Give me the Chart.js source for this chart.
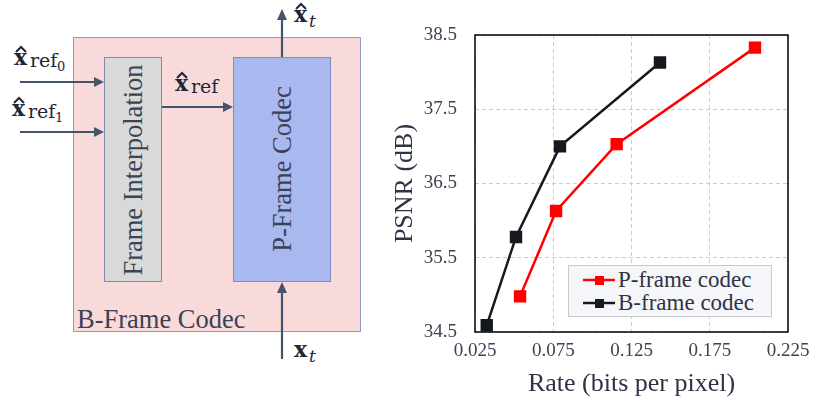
<!DOCTYPE html>
<html>
<head>
<meta charset="utf-8">
<script src="https://cdn.jsdelivr.net/npm/chart.js@4/dist/chart.umd.min.js"></script>
<style>
  html,body{margin:0;padding:0;background:#fff;}
  body{width:830px;height:397px;position:relative;overflow:hidden;font-family:"Liberation Serif",serif;}
  #diagram{position:absolute;left:0;top:0;width:380px;height:397px;}
  #chartBox{position:absolute;left:385px;top:0;width:445px;height:397px;}
  #legend{position:absolute;left:568px;top:265px;width:202px;height:50px;background:#f5f6f9;border:1px solid #c9cacc;
    font-family:"Liberation Serif",serif;font-size:23px;color:#2e3446;}
  #legend .row{position:absolute;left:14px;height:24px;line-height:24px;white-space:nowrap;}
  #legend svg{vertical-align:middle;margin-right:3px;position:relative;top:-2px;}
</style>
</head>
<body>
<svg id="diagram" width="380" height="397" viewBox="0 0 380 397" xmlns="http://www.w3.org/2000/svg">
  <rect x="73.5" y="37.5" width="287" height="294" fill="#f9dada" stroke="#8e9cc0" stroke-width="1"/>
  <rect x="104.5" y="57.5" width="57" height="224" fill="#d9d9d9" stroke="#7d8cae" stroke-width="1"/>
  <rect x="233.5" y="57.5" width="97" height="224" fill="#a9b9ef" stroke="#7d8cc4" stroke-width="1"/>
  <g stroke="#44546a" stroke-width="2.2" fill="#44546a">
    <line x1="20" y1="82" x2="96" y2="82"/>
    <polygon points="104,82 94,77 94,87" stroke="none"/>
    <line x1="20" y1="132" x2="96" y2="132"/>
    <polygon points="104,132 94,127 94,137" stroke="none"/>
    <line x1="162" y1="107" x2="225" y2="107"/>
    <polygon points="233,107 223,102 223,112" stroke="none"/>
    <line x1="282" y1="57" x2="282" y2="19"/>
    <polygon points="282,9 277,20 287,20" stroke="none"/>
    <line x1="282" y1="359" x2="282" y2="291"/>
    <polygon points="282,282 277,293 287,293" stroke="none"/>
  </g>
  <g font-family="Liberation Serif, serif" fill="#3a4256" font-size="26.5">
    <text x="77" y="328">B-Frame Codec</text>
    <text transform="translate(142,170) rotate(-90)" text-anchor="middle">Frame Interpolation</text>
    <text transform="translate(291,169) rotate(-90)" text-anchor="middle">P-Frame Codec</text>
  </g>
  <g fill="#1f2638" font-family="DejaVu Serif, serif">
    <text x="14" y="65" font-size="22" font-weight="bold">x</text>
    <text x="30" y="67" font-size="19">ref</text>
    <text x="57" y="71" font-size="13">0</text>
    <text x="12" y="116" font-size="22" font-weight="bold">x</text>
    <text x="28" y="118" font-size="19">ref</text>
    <text x="55" y="122" font-size="13">1</text>
    <text x="175" y="91" font-size="22" font-weight="bold">x</text>
    <text x="191" y="93" font-size="19">ref</text>
    <text x="294" y="22" font-size="22" font-weight="bold">x</text>
    <text x="309" y="27" font-size="17" font-style="italic">t</text>
    <text x="294" y="357" font-size="22" font-weight="bold">x</text>
    <text x="309" y="362" font-size="17" font-style="italic">t</text>
  </g>
  <g fill="none" stroke="#1f2638" stroke-width="2">
    <polyline points="16,52 21,47 26,52"/>
    <polyline points="14,103 19,98 24,103"/>
    <polyline points="177,78 182,73 187,78"/>
    <polyline points="296,9 301,4 306,9"/>
  </g>
</svg>

<div id="chartBox"><canvas id="c"></canvas></div>

<div id="legend">
  <div class="row" style="top:2px;"><svg width="32" height="12"><line x1="0" y1="6" x2="32" y2="6" stroke="#ff0000" stroke-width="2.5"/><rect x="12" y="2" width="9" height="9" fill="#ff0000"/></svg>P-frame codec</div>
  <div class="row" style="top:25px;"><svg width="32" height="12"><line x1="0" y1="6" x2="32" y2="6" stroke="#15181f" stroke-width="2.5"/><rect x="12" y="2" width="9" height="9" fill="#15181f"/></svg>B-frame codec</div>
</div>

<script>
const seriesNames = ["P-frame codec", "B-frame codec"];
const pRate = [0.0538, 0.0768, 0.1155, 0.2039];
const pPsnr = [34.98, 36.13, 37.03, 38.33];
const bRate = [0.0325, 0.0512, 0.0793, 0.1432];
const bPsnr = [34.59, 35.78, 37.00, 38.13];
const xTicks = [0.025, 0.075, 0.125, 0.175, 0.225];
const yTicks = [34.5, 35.5, 36.5, 37.5, 38.5];
const xTitle = "Rate (bits per pixel)";
const yTitle = "PSNR (dB)";

const toPts = (xs, ys) => xs.map((x, i) => ({x: x, y: ys[i]}));

const frame = {
  id: 'frame',
  afterDatasetsDraw(chart) {
    const a = chart.chartArea, ctx = chart.ctx;
    ctx.save();
    ctx.strokeStyle = '#000';
    ctx.lineWidth = 1.5;
    ctx.strokeRect(a.left, a.top, a.right - a.left, a.bottom - a.top);
    ctx.restore();
  }
};

const tickColor = '#3d4354';
const titleColor = '#2e3446';
const gridColor = '#c8ccd6';
const serif = "'Liberation Serif', 'Times New Roman', serif";

new Chart(document.getElementById('c'), {
  type: 'scatter',
  data: {
    datasets: [
      { label: seriesNames[0], data: toPts(pRate, pPsnr), showLine: true,
        borderColor: '#ff0000', backgroundColor: '#ff0000', borderWidth: 2.5,
        pointStyle: 'rect', pointRadius: 7, pointHoverRadius: 7, clip: false },
      { label: seriesNames[1], data: toPts(bRate, bPsnr), showLine: true,
        borderColor: '#15181f', backgroundColor: '#15181f', borderWidth: 2.5,
        pointStyle: 'rect', pointRadius: 7, pointHoverRadius: 7, clip: false }
    ]
  },
  options: {
    responsive: true,
    maintainAspectRatio: false,
    animation: false,
    layout: { padding: { top: 35, right: 42, bottom: 0, left: 0 } },
    plugins: { legend: { display: false }, tooltip: { enabled: false } },
    scales: {
      x: {
        type: 'linear', min: xTicks[0], max: xTicks[xTicks.length - 1],
        afterBuildTicks: s => { s.ticks = xTicks.map(v => ({value: v})); },
        afterFit: s => { s.height = 65; },
        ticks: { callback: v => v.toFixed(3), color: tickColor, padding: 8,
                 font: { family: serif, size: 19 }, maxRotation: 0 },
        grid: { color: gridColor, lineWidth: 1, drawTicks: false },
        border: { display: false, dash: [4, 3] },
        title: { display: true, text: xTitle, color: titleColor,
                 font: { family: serif, size: 26, lineHeight: 1.0 }, padding: { top: 0, bottom: 0 } }
      },
      y: {
        type: 'linear', min: yTicks[0], max: yTicks[yTicks.length - 1],
        afterBuildTicks: s => { s.ticks = yTicks.map(v => ({value: v})); },
        afterFit: s => { s.width = 90; },
        ticks: { callback: v => v.toFixed(1), color: tickColor, padding: 18,
                 font: { family: serif, size: 19 } },
        grid: { color: gridColor, lineWidth: 1, drawTicks: false },
        border: { display: false, dash: [4, 3] },
        title: { display: true, text: yTitle, color: titleColor,
                 font: { family: serif, size: 26 }, padding: { top: 5, bottom: 0 } }
      }
    }
  },
  plugins: [frame]
});
</script>
</body>
</html>
